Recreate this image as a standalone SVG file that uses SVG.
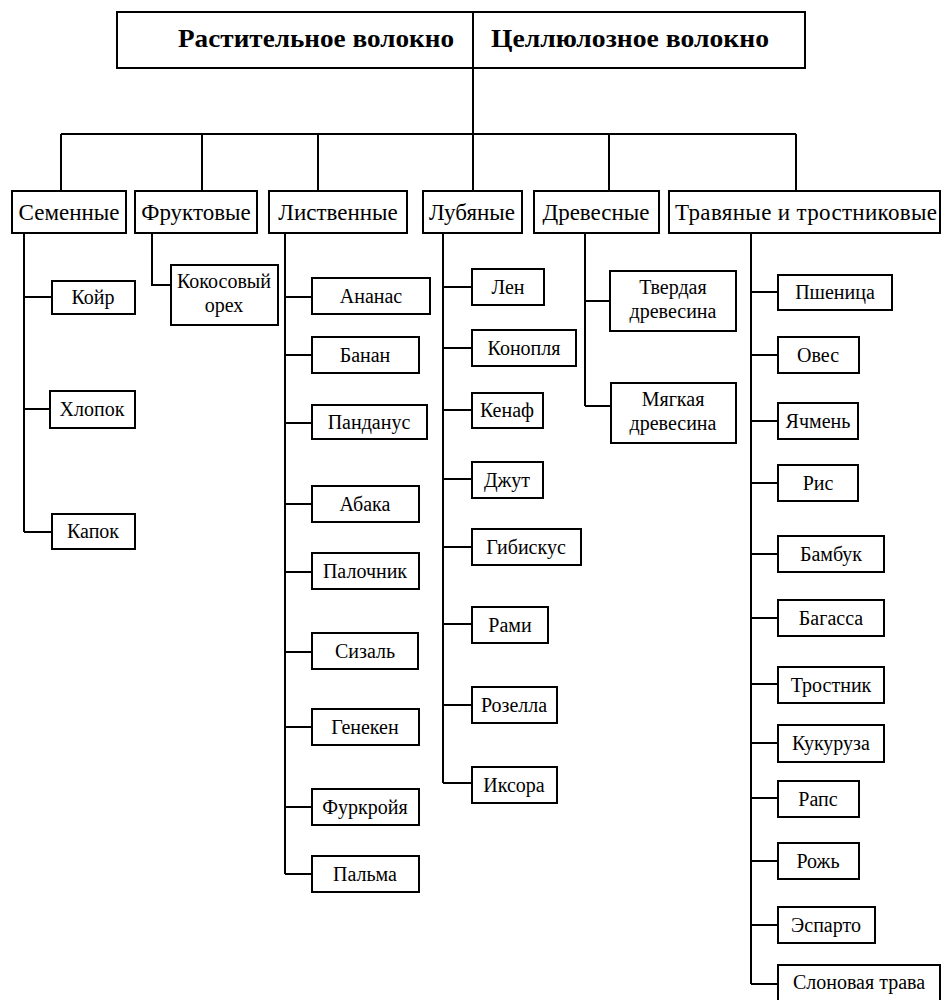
<svg xmlns="http://www.w3.org/2000/svg" width="942" height="1000" viewBox="0 0 942 1000">
<style>
.b{fill:#fff;stroke:#000;stroke-width:2}
.c{fill:none;stroke:#000;stroke-width:2}
text{fill:#000;text-anchor:middle}
.h{font-size:25px;font-weight:bold;text-anchor:start}
.m{font-size:23px}
.l{font-size:20px}
</style>
<rect width="942" height="1000" fill="#fff"/>
<g id="connectors" class="c">
<path d="M473,68V134M61,134H796M61,134V191M202,134V191M318,134V191M473,134V191M609,134V191M796,134V191"/>
<path d="M24,233V532M24,297H52M24,409H50M24,532H52"/>
<path d="M152,233V285H171"/>
<path d="M285,233V874M285,297H312M285,355H312M285,423H312M285,504H312M285,572H312M285,652H312M285,727H312M285,807H312M285,874H312"/>
<path d="M443,233V783M443,287H472M443,348H472M443,410H472M443,479H472M443,547H472M443,624H472M443,705H472M443,783H472"/>
<path d="M585,233V406M585,301H610M585,406H611"/>
<path d="M751,233V984M751,292H778M751,355H778M751,421H778M751,483H778M751,554H778M751,618H778M751,684H778M751,743H778M751,798H778M751,861H778M751,925H778M751,984H778"/>
</g>
<g font-family="'Liberation Serif', 'DejaVu Serif', serif">
<g id="root"><rect class="b" x="117" y="12" width="688" height="56"/><path class="c" d="M473,12V68"/>
<text class="h" x="178" y="47" textLength="276" lengthAdjust="spacingAndGlyphs">Растительное волокно</text><text class="h" x="491" y="47" textLength="278" lengthAdjust="spacingAndGlyphs">Целлюлозное волокно</text></g>
<g id="semennye"><rect class="b" x="12" y="191" width="114" height="42"/><text class="m" x="69" y="220">Семенные</text></g>
<g id="fruktovye"><rect class="b" x="135" y="191" width="122" height="42"/><text class="m" x="196" y="220">Фруктовые</text></g>
<g id="listvennye"><rect class="b" x="269" y="191" width="138" height="42"/><text class="m" x="338" y="220">Лиственные</text></g>
<g id="lubyanye"><rect class="b" x="423" y="191" width="99" height="42"/><text class="m" x="472" y="220">Лубяные</text></g>
<g id="drevesnye"><rect class="b" x="534" y="191" width="125" height="42"/><text class="m" x="596" y="220">Древесные</text></g>
<g id="travyanye"><rect class="b" x="669" y="191" width="271" height="42"/><text class="m" x="806" y="220" textLength="262">Травяные и тростниковые</text></g>
<g id="koyr"><rect class="b" x="52" y="281" width="83" height="33"/><text class="l" x="93" y="304">Койр</text></g>
<g id="khlopok"><rect class="b" x="50" y="391" width="85" height="37"/><text class="l" x="92" y="416">Хлопок</text></g>
<g id="kapok"><rect class="b" x="52" y="514" width="83" height="35"/><text class="l" x="93" y="538">Капок</text></g>
<g id="kokos"><rect class="b" x="171" y="265" width="107" height="60"/><text class="l" x="224" y="288">Кокосовый</text><text class="l" x="224" y="312">орех</text></g>
<g id="ananas"><rect class="b" x="312" y="278" width="118" height="36"/><text class="l" x="371" y="303">Ананас</text></g>
<g id="banan"><rect class="b" x="312" y="337" width="107" height="36"/><text class="l" x="365" y="362">Банан</text></g>
<g id="pandanus"><rect class="b" x="312" y="405" width="115" height="34"/><text class="l" x="369" y="429">Панданус</text></g>
<g id="abaka"><rect class="b" x="312" y="486" width="107" height="36"/><text class="l" x="365" y="511">Абака</text></g>
<g id="palochnik"><rect class="b" x="312" y="553" width="107" height="36"/><text class="l" x="365" y="578">Палочник</text></g>
<g id="sizal"><rect class="b" x="312" y="633" width="106" height="36"/><text class="l" x="365" y="658">Сизаль</text></g>
<g id="genoken"><rect class="b" x="312" y="709" width="107" height="36"/><text class="l" x="365" y="734">Генекен</text></g>
<g id="furkroya"><rect class="b" x="312" y="789" width="107" height="36"/><text class="l" x="365" y="814">Фуркройя</text></g>
<g id="palma"><rect class="b" x="312" y="856" width="107" height="36"/><text class="l" x="365" y="881">Пальма</text></g>
<g id="len"><rect class="b" x="472" y="269" width="72" height="36"/><text class="l" x="508" y="294">Лен</text></g>
<g id="konoplya"><rect class="b" x="472" y="330" width="104" height="36"/><text class="l" x="524" y="355">Конопля</text></g>
<g id="kenaf"><rect class="b" x="472" y="393" width="71" height="35"/><text class="l" x="507" y="417">Кенаф</text></g>
<g id="dzhut"><rect class="b" x="472" y="462" width="71" height="36"/><text class="l" x="507" y="487">Джут</text></g>
<g id="gibiskus"><rect class="b" x="472" y="529" width="109" height="36"/><text class="l" x="526" y="554">Гибискус</text></g>
<g id="rami"><rect class="b" x="472" y="607" width="76" height="36"/><text class="l" x="510" y="632">Рами</text></g>
<g id="rozella"><rect class="b" x="472" y="687" width="85" height="36"/><text class="l" x="514" y="712">Розелла</text></g>
<g id="iksora"><rect class="b" x="472" y="767" width="85" height="36"/><text class="l" x="514" y="792">Иксора</text></g>
<g id="tverdaya"><rect class="b" x="610" y="271" width="126" height="60"/><text class="l" x="673" y="294">Твердая</text><text class="l" x="673" y="318">древесина</text></g>
<g id="myagkaya"><rect class="b" x="611" y="383" width="125" height="60"/><text class="l" x="673" y="406">Мягкая</text><text class="l" x="673" y="430">древесина</text></g>
<g id="pshenitsa"><rect class="b" x="778" y="275" width="114" height="35"/><text class="l" x="835" y="299">Пшеница</text></g>
<g id="oves"><rect class="b" x="778" y="337" width="81" height="36"/><text class="l" x="818" y="362">Овес</text></g>
<g id="yachmen"><rect class="b" x="778" y="403" width="80" height="36"/><text class="l" x="818" y="428">Ячмень</text></g>
<g id="ris"><rect class="b" x="778" y="465" width="80" height="36"/><text class="l" x="818" y="490">Рис</text></g>
<g id="bambuk"><rect class="b" x="778" y="536" width="106" height="36"/><text class="l" x="831" y="561">Бамбук</text></g>
<g id="bagassa"><rect class="b" x="778" y="600" width="106" height="36"/><text class="l" x="831" y="625">Багасса</text></g>
<g id="trostnik"><rect class="b" x="778" y="667" width="106" height="36"/><text class="l" x="831" y="692">Тростник</text></g>
<g id="kukuruza"><rect class="b" x="778" y="725" width="106" height="37"/><text class="l" x="831" y="750">Кукуруза</text></g>
<g id="raps"><rect class="b" x="778" y="781" width="81" height="36"/><text class="l" x="818" y="806">Рапс</text></g>
<g id="rozh"><rect class="b" x="778" y="843" width="81" height="36"/><text class="l" x="818" y="868">Рожь</text></g>
<g id="esparto"><rect class="b" x="778" y="907" width="97" height="36"/><text class="l" x="826" y="932">Эспарто</text></g>
<g id="slonovaya"><rect class="b" x="778" y="965" width="162" height="45"/><text class="l" x="859" y="989">Слоновая трава</text></g>
</g>
</svg>
